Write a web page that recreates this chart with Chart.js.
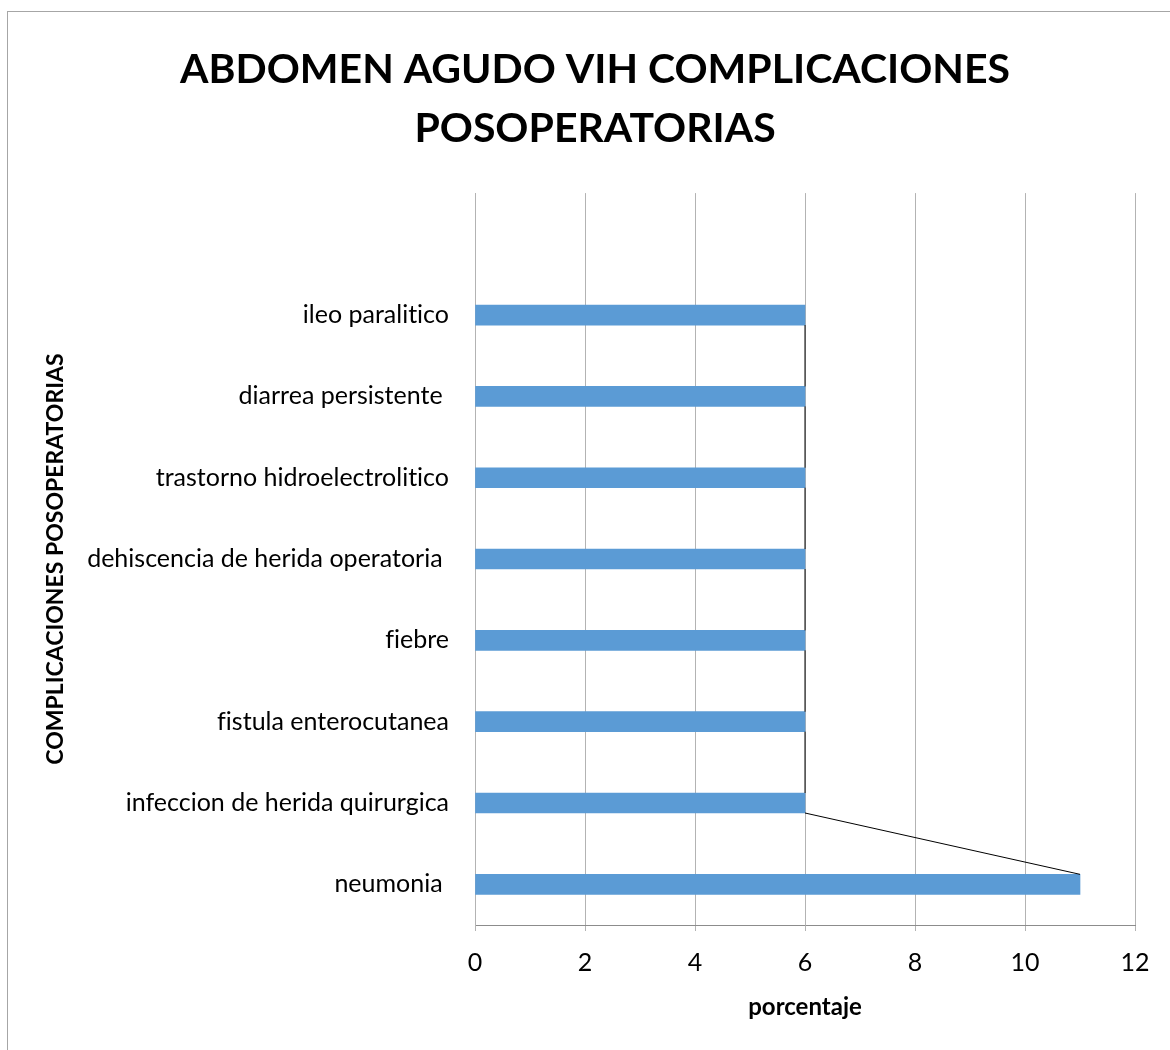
<!DOCTYPE html>
<html>
<head>
<meta charset="utf-8">
<script src="https://cdn.jsdelivr.net/npm/chart.js@4"></script>
<style>
  html, body { margin: 0; padding: 0; background: #fff; overflow: hidden; }
  #frame {
    position: absolute; left: 7px; top: 11px;
    width: 1200px; height: 1100px;
    border: 1px solid #a6a6a6;
  }
  #chart { position: absolute; left: 0; top: 0; }
</style>
</head>
<body>
<div id="frame"></div>
<canvas id="chart" width="1170" height="1050"></canvas>
<script>
// Categories from top to bottom (top band is empty in the original)
const categories = [
    '',
    'ileo paralitico',
    'diarrea persistente ',
    'trastorno hidroelectrolitico',
    'dehiscencia de herida operatoria ',
    'fiebre',
    'fistula enterocutanea',
    'infeccion de herida quirurgica',
    'neumonia '
];
const porcentaje = [null, 6, 6, 6, 6, 6, 6, 6, 11];
const titleLines = ['ABDOMEN AGUDO VIH COMPLICACIONES', 'POSOPERATORIAS'];
const xTitle = 'porcentaje';
const yTitle = 'COMPLICACIONES POSOPERATORIAS';

const PAD_LEFT = 55;

// no "fi" ligatures, like the original
const noLigatures = {
    id: 'noLigatures',
    beforeDraw(chart) {
        chart.ctx.textRendering = 'optimizeSpeed';
    }
};

// Excel-style series lines: join the end of each bar to the next one
const seriesLines = {
    id: 'seriesLines',
    afterDatasetsDraw(chart) {
        const bars = chart.getDatasetMeta(0).data;
        const c = chart.ctx;
        c.save();
        c.strokeStyle = '#000';
        c.lineWidth = 1;
        for (let i = 0; i < bars.length - 1; i++) {
            if (porcentaje[i] == null || porcentaje[i + 1] == null) continue;
            const a = bars[i], b = bars[i + 1];
            c.beginPath();
            c.moveTo(a.x, a.y + a.height / 2);
            c.lineTo(b.x, b.y - b.height / 2);
            c.stroke();
        }
        c.restore();
    }
};

const ctx = document.getElementById('chart').getContext('2d');
new Chart(ctx, {
    type: 'bar',
    data: {
        labels: categories,
        datasets: [{
            label: 'porcentaje',
            data: porcentaje,
            backgroundColor: '#5b9bd5',
            borderWidth: 0,
            barThickness: 20
        }]
    },
    plugins: [noLigatures, seriesLines],
    options: {
        indexAxis: 'y',
        responsive: false,
        animation: false,
        devicePixelRatio: 1,
        layout: {
            padding: { left: PAD_LEFT, right: 35, top: 0, bottom: 20 }
        },
        plugins: {
            legend: { display: false },
            tooltip: { enabled: false },
            title: {
                display: true,
                text: titleLines,
                color: '#000',
                font: { family: 'Lato', size: 41, weight: 'bold', lineHeight: 1.44 },
                padding: { top: 40, bottom: 35 }
            }
        },
        scales: {
            x: {
                min: 0,
                max: 12,
                ticks: {
                    stepSize: 2,
                    color: '#000',
                    padding: 17,
                    font: { family: 'Lato', size: 25 }
                },
                grid: { color: '#b3b3b3', tickLength: 6 },
                border: { color: '#8c8c8c' },
                title: {
                    display: true,
                    text: xTitle,
                    color: '#000',
                    font: { family: 'Lato', size: 24, weight: 'bold' },
                    padding: { top: 10, bottom: 8 }
                },
                afterFit: s => { s.height = 1050 - 20 - 925; }
            },
            y: {
                ticks: {
                    color: '#000',
                    padding: 18,
                    font: { family: 'Lato', size: 25 }
                },
                grid: { display: false },
                border: { color: '#b3b3b3' },
                title: {
                    display: true,
                    text: yTitle,
                    color: '#000',
                    font: { family: 'Lato', size: 23, weight: 'bold' },
                    padding: { top: -13, bottom: 0 }
                },
                afterFit: s => { s.width = 475 - PAD_LEFT; }
            }
        }
    }
});
</script>
</body>
</html>
